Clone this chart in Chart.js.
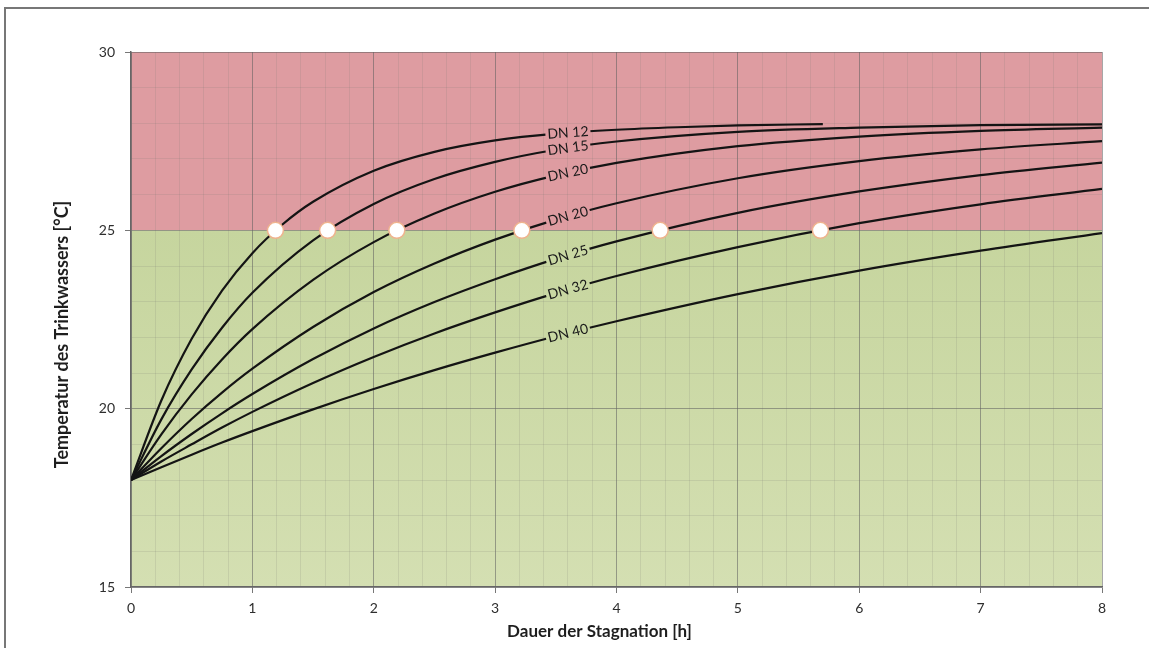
<!DOCTYPE html>
<html lang="de">
<head>
<meta charset="UTF-8">
<title>Temperatur des Trinkwassers</title>
<script src="https://cdn.jsdelivr.net/npm/chart.js"></script>
<style>
    body { margin: 0; background: #fff; }
    #frame {
        position: absolute; left: 4px; top: 7px;
        width: 1300px; height: 800px;
        border: 2px solid #777;
    }
    #chart { position: absolute; left: 0; top: 0; }
</style>
</head>
<body>
<div id="frame"></div>
<canvas id="chart" width="1149" height="648"></canvas>
<script>
// Stunden (x) und Temperaturen (y) je Nennweite
const hours = [0, 0.25, 0.5, 0.75, 1, 1.5, 2, 2.5, 3, 3.5, 4, 5, 6, 7, 8];
const hoursDN12 = [0, 0.25, 0.5, 0.75, 1, 1.25, 1.5, 2, 2.5, 3, 3.5, 4, 4.5, 5, 5.7];

const dn12 = [18, 20.23, 21.96, 23.31, 24.36, 25.17, 25.80, 26.67, 27.20, 27.52, 27.71, 27.82, 27.89, 27.94, 27.98];
const dn15 = [18, 19.70, 21.10, 22.27, 23.25, 24.72, 25.74, 26.44, 26.92, 27.26, 27.49, 27.76, 27.88, 27.95, 27.97];
const dn20a = [18, 19.28, 20.40, 21.38, 22.23, 23.61, 24.67, 25.47, 26.08, 26.54, 26.89, 27.36, 27.63, 27.79, 27.88];
const dn20b = [18, 18.89, 19.71, 20.45, 21.12, 22.29, 23.27, 24.07, 24.74, 25.30, 25.76, 26.46, 26.94, 27.27, 27.50];
const dn25 = [18, 18.67, 19.29, 19.87, 20.41, 21.39, 22.25, 22.99, 23.63, 24.20, 24.69, 25.49, 26.09, 26.55, 26.90];
const dn32 = [18, 18.52, 19.00, 19.47, 19.91, 20.72, 21.45, 22.11, 22.70, 23.24, 23.72, 24.53, 25.20, 25.73, 26.16];
const dn40 = [18, 18.36, 18.71, 19.05, 19.37, 19.98, 20.55, 21.08, 21.57, 22.03, 22.45, 23.21, 23.87, 24.43, 24.92];

const curveNames = ['DN 12', 'DN 15', 'DN 20', 'DN 20', 'DN 25', 'DN 32', 'DN 40'];
const curveValues = [dn12, dn15, dn20a, dn20b, dn25, dn32, dn40];
const curveHours = [hoursDN12, hours, hours, hours, hours, hours, hours];

// Zeitpunkte, an denen 25 °C erreicht werden
const limitTemp = 25;
const crossHours = [1.19, 1.62, 2.19, 3.22, 4.36, 5.68];
const labelHour = 3.6;

const xTickLabels = ['0', '1', '2', '3', '4', '5', '6', '7', '8'];
const yTickLabels = ['15', '20', '25', '30'];

const redBand = '#de9ca1';
const greenBand = '#c9d8a3';
const majorGrid = 'rgba(95,95,95,0.55)';
const minorGrid = 'rgba(120,120,110,0.16)';
const fontName = 'Lato, "Open Sans", sans-serif';

function isMajorX(v) { return Math.abs(v - Math.round(v)) < 1e-6; }
function isMajorY(v) { return yTickLabels.includes(String(Math.round(v))) && Math.abs(v - Math.round(v)) < 1e-6; }

let datasets = [{
    type: 'scatter',
    data: crossHours.map(h => ({ x: h, y: limitTemp })),
    pointRadius: 8,
    pointBackgroundColor: '#ffffff',
    pointBorderColor: '#efb38e',
    pointBorderWidth: 1.5,
    order: 0
}];

curveNames.forEach((name, i) => {
    datasets.push({
        type: 'line',
        curveName: name,
        data: curveHours[i].map((h, k) => ({ x: h, y: curveValues[i][k] })),
        borderColor: '#141414',
        borderWidth: 2.2,
        pointRadius: 0,
        fill: false,
        cubicInterpolationMode: 'monotone',
        order: 1
    });
});

// Hintergrund: rot über 25 °C, grün darunter
const bandPlugin = {
    id: 'bands',
    beforeDraw(chart) {
        const { ctx, chartArea: a, scales: { y } } = chart;
        const yl = y.getPixelForValue(limitTemp);
        ctx.save();
        ctx.fillStyle = redBand;
        ctx.fillRect(a.left, a.top, a.right - a.left, yl - a.top);
        const g = ctx.createLinearGradient(0, yl, 0, a.bottom);
        g.addColorStop(0, '#c6d59e');
        g.addColorStop(1, '#d4dfb2');
        ctx.fillStyle = g;
        ctx.fillRect(a.left, yl, a.right - a.left, a.bottom - yl);
        ctx.restore();
    }
};

// Beschriftung direkt auf den Kurven
const labelPlugin = {
    id: 'curveLabels',
    afterDatasetsDraw(chart) {
        const { ctx, scales: { x, y } } = chart;
        const px = x.getPixelForValue(labelHour);
        const yl = y.getPixelForValue(limitTemp);
        chart.data.datasets.forEach((ds, i) => {
            if (!ds.curveName) return;
            const pts = chart.getDatasetMeta(i).data;
            const k = pts.findIndex(p => p.x >= px);
            const p0 = pts[k - 1], p1 = pts[k];
            const f = (px - p0.x) / (p1.x - p0.x);
            const py = p0.y + f * (p1.y - p0.y);
            const ang = Math.atan2(p1.y - p0.y, p1.x - p0.x);
            ctx.save();
            ctx.translate(px, py);
            ctx.rotate(ang);
            ctx.font = '14px ' + fontName;
            const w = ctx.measureText(ds.curveName).width;
            ctx.fillStyle = py < yl ? redBand : greenBand;
            ctx.fillRect(-w / 2 - 2, -5, w + 4, 10);
            ctx.fillStyle = '#1a1a1a';
            ctx.textAlign = 'center';
            ctx.textBaseline = 'middle';
            ctx.fillText(ds.curveName, 0, 0);
            ctx.restore();
        });
    }
};

// Achsentitel
const titlePlugin = {
    id: 'axisTitles',
    afterDraw(chart) {
        const { ctx, chartArea: a } = chart;
        ctx.save();
        ctx.fillStyle = '#1e1e1e';
        ctx.textAlign = 'center';
        ctx.textBaseline = 'middle';
        ctx.font = 'bold 17px ' + fontName;
        ctx.fillText('Dauer der Stagnation [h]', (a.left + a.right) / 2 - 17, a.bottom + 45);
        ctx.font = 'bold 18px ' + fontName;
        ctx.translate(62, (a.top + a.bottom) / 2 + 15);
        ctx.rotate(-Math.PI / 2);
        ctx.fillText('Temperatur des Trinkwassers [°C]', 0, 0);
        ctx.restore();
    }
};

new Chart(document.getElementById('chart'), {
    data: { datasets: datasets },
    options: {
        responsive: false,
        devicePixelRatio: 1,
        animation: false,
        events: [],
        layout: { padding: { top: 52, right: 47, left: 0, bottom: 0 } },
        plugins: { legend: { display: false }, tooltip: { enabled: false } },
        scales: {
            x: {
                type: 'linear',
                min: 0,
                max: 8,
                afterFit: s => { s.height = 61; },
                ticks: {
                    stepSize: 0.2,
                    autoSkip: false,
                    maxRotation: 0,
                    padding: 7,
                    color: '#2e2e2e',
                    font: { family: fontName, size: 14 },
                    callback: v => isMajorX(v) ? xTickLabels[Math.round(v)] : ''
                },
                grid: {
                    color: c => isMajorX(c.tick.value) ? majorGrid : minorGrid,
                    tickColor: c => isMajorX(c.tick.value) ? '#777' : 'rgba(0,0,0,0)',
                    tickLength: 6
                },
                border: { color: '#666', width: 1.5 }
            },
            y: {
                type: 'linear',
                min: 15,
                max: 30,
                afterFit: s => { s.width = 131; },
                ticks: {
                    stepSize: 1,
                    autoSkip: false,
                    padding: 10,
                    color: '#2e2e2e',
                    font: { family: fontName, size: 14 },
                    callback: v => isMajorY(v) ? String(v) : ''
                },
                grid: {
                    color: c => isMajorY(c.tick.value) ? majorGrid : minorGrid,
                    tickColor: c => isMajorY(c.tick.value) ? '#777' : 'rgba(0,0,0,0)',
                    tickLength: 6
                },
                border: { color: '#666', width: 1.5 }
            }
        }
    },
    plugins: [bandPlugin, labelPlugin, titlePlugin]
});
</script>
</body>
</html>
